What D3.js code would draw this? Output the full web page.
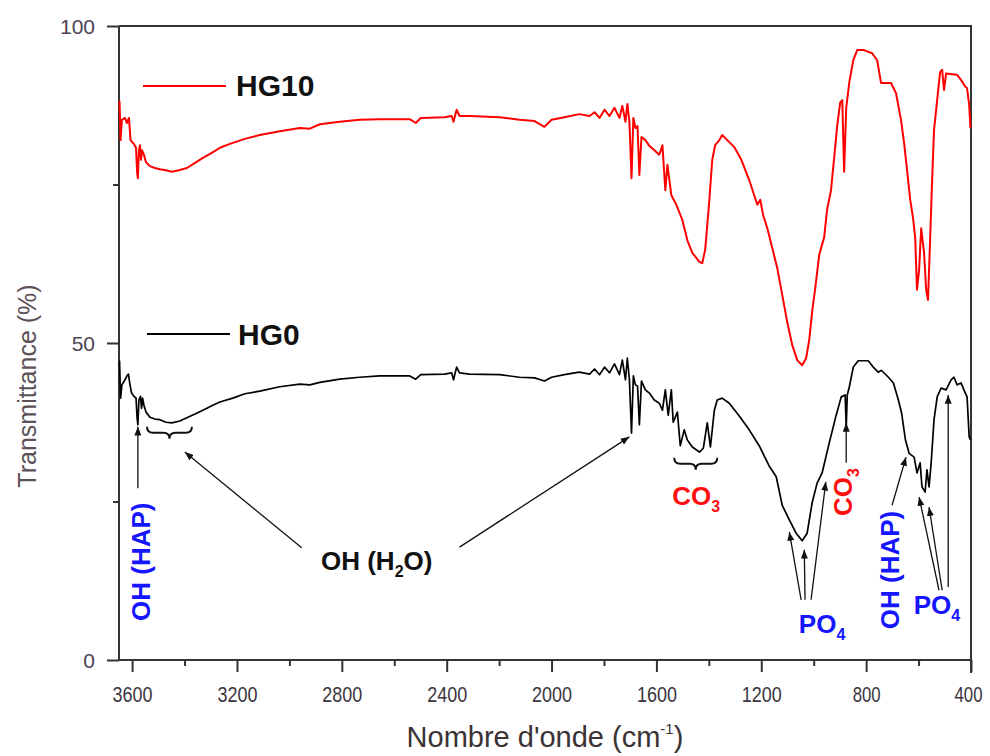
<!DOCTYPE html>
<html><head><meta charset="utf-8">
<script src="https://cdn.jsdelivr.net/npm/d3@7"></script>
<style>body{margin:0;background:#fff}svg{display:block}</style>
</head><body><svg id="c" width="990" height="756"></svg>
<script>
// ---- data: [wavenumber cm-1, transmittance %] ----
const hg10 = [[3648,88.2],[3644,82.0],[3639,85.2],[3627,85.5],[3620,84.7],[3612,85.5],[3606,82.0],[3600,81.7],[3593,81.4],[3585,80.8],[3581,77.0],[3578,76.0],[3574,80.4],[3570,81.2],[3566,78.9],[3562,80.4],[3555,79.7],[3547,78.5],[3532,77.9],[3513,77.6],[3494,77.4],[3475,77.3],[3448,77.0],[3418,77.3],[3391,77.6],[3360,78.4],[3330,79.2],[3296,80.0],[3265,80.8],[3227,81.4],[3170,82.2],[3113,82.8],[3037,83.4],[2960,83.9],[2922,83.8],[2884,84.5],[2808,84.9],[2732,85.2],[2656,85.3],[2541,85.3],[2518,84.7],[2499,85.5],[2408,85.6],[2381,85.8],[2374,84.9],[2362,86.8],[2351,85.8],[2313,85.8],[2198,85.6],[2122,85.2],[2065,85.0],[2027,84.1],[2000,85.2],[1951,85.6],[1894,86.1],[1855,85.8],[1836,86.4],[1817,85.5],[1798,86.8],[1779,85.8],[1760,87.1],[1741,85.5],[1730,87.4],[1718,84.9],[1711,87.7],[1703,84.9],[1695,76.0],[1688,85.5],[1680,83.9],[1672,84.2],[1665,76.5],[1657,82.5],[1642,82.0],[1627,81.1],[1608,80.4],[1589,79.7],[1577,81.2],[1566,74.1],[1558,78.1],[1543,73.3],[1524,71.8],[1501,69.4],[1482,66.2],[1463,64.2],[1447,63.4],[1436,62.8],[1425,62.6],[1414,64.7],[1406,68.6],[1398,72.6],[1387,78.9],[1376,81.2],[1360,82.0],[1349,82.8],[1330,82.0],[1303,80.9],[1276,78.9],[1246,75.7],[1227,73.3],[1215,71.8],[1204,72.6],[1193,70.2],[1177,68.1],[1158,65.0],[1139,61.8],[1120,57.6],[1101,53.3],[1082,49.7],[1063,47.3],[1044,46.5],[1029,47.6],[1017,50.5],[1006,54.9],[994,58.7],[979,63.9],[960,66.7],[949,71.0],[934,74.1],[922,79.2],[910,84.4],[899,87.9],[891,88.3],[884,77.0],[876,87.1],[864,91.2],[849,94.6],[834,96.2],[808,96.2],[777,95.7],[758,94.6],[743,91.0],[705,91.0],[686,89.4],[667,85.2],[655,81.5],[644,77.3],[632,72.6],[621,69.7],[613,66.7],[606,58.4],[598,61.5],[590,68.1],[579,64.2],[571,58.4],[564,56.8],[556,66.2],[549,74.9],[541,83.6],[530,87.9],[518,92.7],[510,93.1],[503,89.9],[495,92.5],[472,92.4],[453,92.3],[438,91.5],[423,90.5],[415,90.2],[407,87.5],[402,83.9]];

const hg0 = [[3648,47.2],[3644,41.3],[3639,43.4],[3627,44.2],[3620,44.8],[3614,45.1],[3608,43.4],[3602,42.1],[3593,41.6],[3585,41.3],[3581,38.2],[3578,37.1],[3574,41.0],[3568,41.6],[3564,39.7],[3560,41.3],[3555,40.2],[3547,39.1],[3532,38.3],[3513,38.0],[3494,37.9],[3471,37.5],[3448,37.4],[3418,37.7],[3391,38.2],[3360,38.8],[3330,39.4],[3296,40.1],[3265,40.7],[3216,41.3],[3170,42.0],[3113,42.4],[3037,43.1],[2960,43.5],[2922,43.4],[2884,43.8],[2808,44.3],[2732,44.6],[2656,44.8],[2541,44.8],[2518,44.3],[2499,45.0],[2408,45.1],[2381,45.3],[2374,44.2],[2362,46.2],[2351,45.3],[2313,45.1],[2198,45.0],[2122,44.6],[2065,44.5],[2027,44.0],[2000,44.6],[1951,45.0],[1894,45.4],[1855,45.1],[1836,45.9],[1817,45.0],[1798,46.2],[1779,45.3],[1760,46.7],[1741,45.0],[1730,47.3],[1718,44.2],[1711,47.6],[1703,44.2],[1695,35.8],[1688,44.8],[1680,43.4],[1672,43.2],[1665,37.1],[1657,44.0],[1642,42.6],[1627,42.1],[1608,41.0],[1589,40.5],[1577,39.4],[1566,42.6],[1555,38.6],[1543,42.6],[1536,37.5],[1520,39.1],[1509,33.8],[1494,36.3],[1482,34.7],[1463,33.6],[1436,32.8],[1421,33.4],[1406,37.4],[1394,33.6],[1379,39.4],[1368,41.0],[1349,41.3],[1322,40.5],[1284,38.5],[1246,36.3],[1208,33.8],[1170,30.6],[1143,28.9],[1120,24.4],[1093,22.1],[1067,20.0],[1044,18.8],[1025,20.0],[1006,24.8],[987,27.9],[968,29.5],[941,34.2],[915,38.5],[895,41.5],[880,41.8],[876,36.6],[872,41.8],[864,43.1],[849,46.2],[830,47.2],[792,47.2],[773,46.2],[754,45.4],[742,45.7],[715,44.6],[696,43.7],[677,41.0],[665,39.0],[650,34.7],[636,32.6],[617,32.0],[606,29.5],[594,31.1],[587,27.3],[575,26.5],[568,30.0],[560,27.3],[552,31.1],[541,37.9],[529,41.5],[514,42.9],[495,42.6],[476,44.2],[465,44.6],[453,43.4],[438,43.7],[427,42.6],[415,41.5],[407,35.2],[402,34.7]];

const seriesNames = ["HG10", "HG0"];
const xMajorTicks = [3600,3200,2800,2400,2000,1600,1200,800,400];
const xMinorTicks = [3400,3000,2600,2200,1800,1400,1000,600];
const yMajorTicks = [0,50,100];
const yMinorTicks = [25,75];

// annotation anchors (data coordinates)
const arrows = [
  [[3578,27.1],[3578,36.8]],
  [[2953,17.7],[3399,32.8]],
  [[2351,17.8],[1703,35.2]],
  [[876,31.1],[876,37.4]],
  [[1048,9.5],[1093,20.2]],
  [[1033,9.5],[1036,17.4]],
  [[1010,9.5],[954,28.1]],
  [[701,24.4],[648,32.0]],
  [[522,11.0],[598,25.7]],
  [[510,11.0],[560,24.1]],
  [[487,11.5],[487,41.8]]
];
const braces = [[3543,3372,36.8],[1532,1368,31.9]];

// ---- layout ----
const L=119,R=971,T=26,B=660;
const font='"Liberation Sans", Arial, Helvetica, sans-serif';
const x=d3.scaleLinear().domain([3650,400]).range([L,R]);
const y=d3.scaleLinear().domain([0,100]).range([B,T]);
const svg=d3.select('#c').style('font-family',font);

const defs=svg.append('defs');
defs.append('marker').attr('id','ah').attr('viewBox','0 0 10 8').attr('refX',10).attr('refY',4)
  .attr('markerWidth',9).attr('markerHeight',7).attr('markerUnits','userSpaceOnUse').attr('orient','auto')
  .append('path').attr('d','M0,0L10,4L0,8z').attr('fill','#111');

// axes
const axCol='#333';
const gx=svg.append('g').attr('transform',`translate(0,${B})`)
  .call(d3.axisBottom(x).tickValues(xMajorTicks).tickSize(12).tickSizeOuter(0).tickFormat(d3.format('d')));
gx.select('.domain').remove();
gx.selectAll('line').attr('stroke',axCol).attr('stroke-width',2);
gx.selectAll('text').attr('y',42).attr('dy',0).attr('font-size',22).attr('fill','#3b3540')
  .attr('font-family',font).each(function(d){
    const n=String(d).length;
    const t=d3.select(this).attr('textLength',n*10-(n<4?2:0)).attr('lengthAdjust','spacingAndGlyphs');
    if(d===400) t.attr('text-anchor','end').attr('x',11);
  });
const gxm=svg.append('g').attr('transform',`translate(0,${B})`)
  .call(d3.axisBottom(x).tickValues(xMinorTicks).tickSize(6).tickSizeOuter(0).tickFormat(''));
gxm.select('.domain').remove();
gxm.selectAll('line').attr('stroke',axCol).attr('stroke-width',2);

const gy=svg.append('g').attr('transform',`translate(${L},0)`)
  .call(d3.axisLeft(y).tickValues(yMajorTicks).tickSize(12).tickPadding(12).tickSizeOuter(0));
gy.select('.domain').remove();
gy.selectAll('line').attr('stroke',axCol).attr('stroke-width',2);
gy.selectAll('text').attr('font-size',21).attr('fill','#4d4453').attr('font-family',font).attr('dy','0.36em');
const gym=svg.append('g').attr('transform',`translate(${L},0)`)
  .call(d3.axisLeft(y).tickValues(yMinorTicks).tickSize(6).tickSizeOuter(0).tickFormat(''));
gym.select('.domain').remove();
gym.selectAll('line').attr('stroke',axCol).attr('stroke-width',2);

// frame
svg.append('path').attr('fill','none').attr('stroke',axCol).attr('stroke-width',2)
  .attr('d',`M${x(3650)},${y(100)}V${y(0)}M${x(3650)},${y(100)}H${x(400)}V${y(0)+13}M${x(3650)},${y(0)}H${x(400)}`);

// axis titles
const xt=svg.append('text').attr('x',545).attr('y',747).attr('text-anchor','middle')
  .attr('font-size',29).attr('fill','#3a3234');
xt.append('tspan').text("Nombre d'onde (cm");
xt.append('tspan').attr('font-size',15).attr('dy',-13).text('-1');
xt.append('tspan').attr('dy',13).text(')');
svg.append('text').attr('transform','translate(36,386) rotate(-90)').attr('text-anchor','middle')
  .attr('font-size',25).attr('fill','#5b5157').text('Transmittance (%)');

// curves
const line=d3.line().x(d=>x(d[0])).y(d=>y(d[1]));
svg.append('path').datum(hg10).attr('d',line).attr('fill','none').attr('stroke','#ff0000').attr('stroke-width',2).attr('stroke-linejoin','round');
svg.append('path').datum(hg0).attr('d',line).attr('fill','none').attr('stroke','#000').attr('stroke-width',1.7).attr('stroke-linejoin','round');

// legend
const legend=[{name:seriesNames[0],col:'#ff0000',x1:143,x2:226,yy:86,tx:236,ty:96},
              {name:seriesNames[1],col:'#000',x1:147,x2:230,yy:334,tx:238,ty:345}];
legend.forEach(l=>{
  svg.append('line').attr('x1',l.x1).attr('x2',l.x2).attr('y1',l.yy).attr('y2',l.yy).attr('stroke',l.col).attr('stroke-width',2);
  svg.append('text').attr('x',l.tx).attr('y',l.ty).attr('font-size',30).attr('font-weight','bold').attr('fill','#111').text(l.name);
});

// arrows
arrows.forEach(a=>{
  svg.append('line').attr('x1',x(a[0][0])).attr('y1',y(a[0][1])).attr('x2',x(a[1][0])).attr('y2',y(a[1][1]))
    .attr('stroke','#111').attr('stroke-width',1.3).attr('marker-end','url(#ah)');
});
// braces
braces.forEach(b=>{
  const x1=x(b[0]),x2=x(b[1]),y0=y(b[2]),h=12,mid=(x1+x2)/2,r=6,ym=y0+h/2;
  svg.append('path').attr('fill','none').attr('stroke','#111').attr('stroke-width',2)
    .attr('d',`M${x1},${y0}Q${x1},${ym} ${x1+r},${ym}L${mid-r},${ym}Q${mid},${ym} ${mid},${y0+h}Q${mid},${ym} ${mid+r},${ym}L${x2-r},${ym}Q${x2},${ym} ${x2},${y0}`);
});

// labels
function label(wn,t,parts,col,rot){
  const g=svg.append('g').attr('transform',`translate(${x(wn)},${y(t)})`+(rot?' rotate(-90)':''));
  const tx=g.append('text').attr('text-anchor','middle').attr('font-size',26).attr('font-weight','bold').attr('fill',col);
  parts.forEach(p=>{
    const s=tx.append('tspan').text(p[0]);
    if(p[1]==='sub'){s.attr('font-size',16).attr('dy',7);} 
    else if(p[1]==='back'){s.attr('dy',-7);} 
  });
}
const blue='#1515ff', red='#ff1010';
label(3532,15.5,[['OH (HAP)']],blue,true);
label(2667,14.2,[['OH (H'],['2','sub'],['O)','back']],'#111',false);
label(1448,24.4,[['CO'],['3','sub']],red,false);
label(855,26.5,[['CO'],['3','sub']],red,true);
label(968,4.3,[['PO'],['4','sub']],blue,false);
label(674,14.2,[['OH (HAP)']],blue,true);
label(530,7.3,[['PO'],['4','sub']],blue,false);
</script></body></html>
